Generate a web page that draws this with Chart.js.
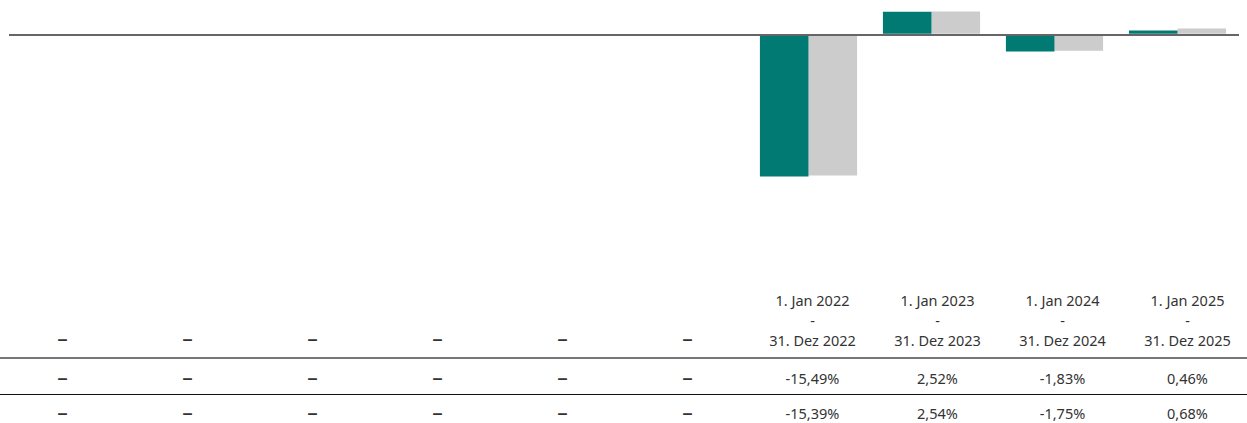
<!DOCTYPE html>
<html lang="de">
<head>
  <meta charset="UTF-8">
  <script src="https://cdn.jsdelivr.net/npm/chart.js"></script>
  <title>Wertentwicklung</title>
</head>
<style>
*{
    margin: 0px;
    padding: 0px;
    box-sizing: border-box;
}
body{
    width: 1247px;
    background: #fff;
    font-family: "Noto Sans", sans-serif;
    color: #333;
}
#diagram{
    position: relative;
    width: 1247px;
    height: 280px;
}
table{
    width: 1250px;
    border-collapse: collapse;
    table-layout: fixed;
    font-size: 14.5px;
}
td{
    text-align: center;
    white-space: nowrap;
    line-height: 20px;
}
td .na{
    font-size: 21px;
    line-height: 20px;
}
tr.head td{
    height: 78px;
    vertical-align: bottom;
    padding-bottom: 7px;
    border-bottom: 2px solid #777;
}
tr.fund td{
    height: 36px;
    padding-top: 3px;
    border-bottom: 1.5px solid #111;
}
tr.bench td{
    height: 36px;
    padding-top: 1px;
}
</style>
<body>
  <div id="diagram">
    <canvas id="perfChart"></canvas>
  </div>
  <table id="perfTable"></table>
  <script>
const startLabels = [null, null, null, null, null, null, "1. Jan 2022", "1. Jan 2023", "1. Jan 2024", "1. Jan 2025"];
const endLabels = [null, null, null, null, null, null, "31. Dez 2022", "31. Dez 2023", "31. Dez 2024", "31. Dez 2025"];
const fundValues = [null, null, null, null, null, null, -15.49, 2.52, -1.83, 0.46];
const benchValues = [null, null, null, null, null, null, -15.39, 2.54, -1.75, 0.68];

const labels = startLabels.map((s, i) => s ? s + " - " + endLabels[i] : "");

const config = {
  type: "bar",
  data: {
    labels: labels,
    datasets: [
      {
        label: "Fonds",
        backgroundColor: "#007a73",
        data: fundValues
      },
      {
        label: "Vergleichsindex",
        backgroundColor: "#cccccc",
        data: benchValues
      }
    ]
  },
  options: {
    responsive: true,
    maintainAspectRatio: false,
    animation: false,
    layout: { padding: { left: 9, right: 8, top: 0, bottom: 0 } },
    datasets: {
      bar: { categoryPercentage: 0.79, barPercentage: 1.0 }
    },
    plugins: {
      legend: { display: false },
      tooltip: { enabled: false }
    },
    scales: {
      x: { display: false },
      y: {
        min: -26.8,
        max: 3.8,
        afterBuildTicks: (axis) => { axis.ticks = [{ value: 0 }]; },
        ticks: { display: false },
        border: { display: false },
        grid: {
          drawTicks: false,
          color: "#666",
          lineWidth: 2,
          z: 1
        }
      }
    }
  }
};
new Chart(document.getElementById("perfChart"), config);

// table under the chart
const dash = '<span class="na">\u2013</span>';
function fmt(v){
  if (v === null) return dash;
  return v.toFixed(2).replace(".", ",") + "%";
}
const table = document.getElementById("perfTable");
let html = '<tr class="head">';
startLabels.forEach((s, i) => {
  html += "<td>" + (s ? s + "<br>-<br>" + endLabels[i] : dash) + "</td>";
});
html += '</tr><tr class="fund">';
fundValues.forEach(v => { html += "<td>" + fmt(v) + "</td>"; });
html += '</tr><tr class="bench">';
benchValues.forEach(v => { html += "<td>" + fmt(v) + "</td>"; });
html += "</tr>";
table.innerHTML = html;
  </script>
</body>
</html>
